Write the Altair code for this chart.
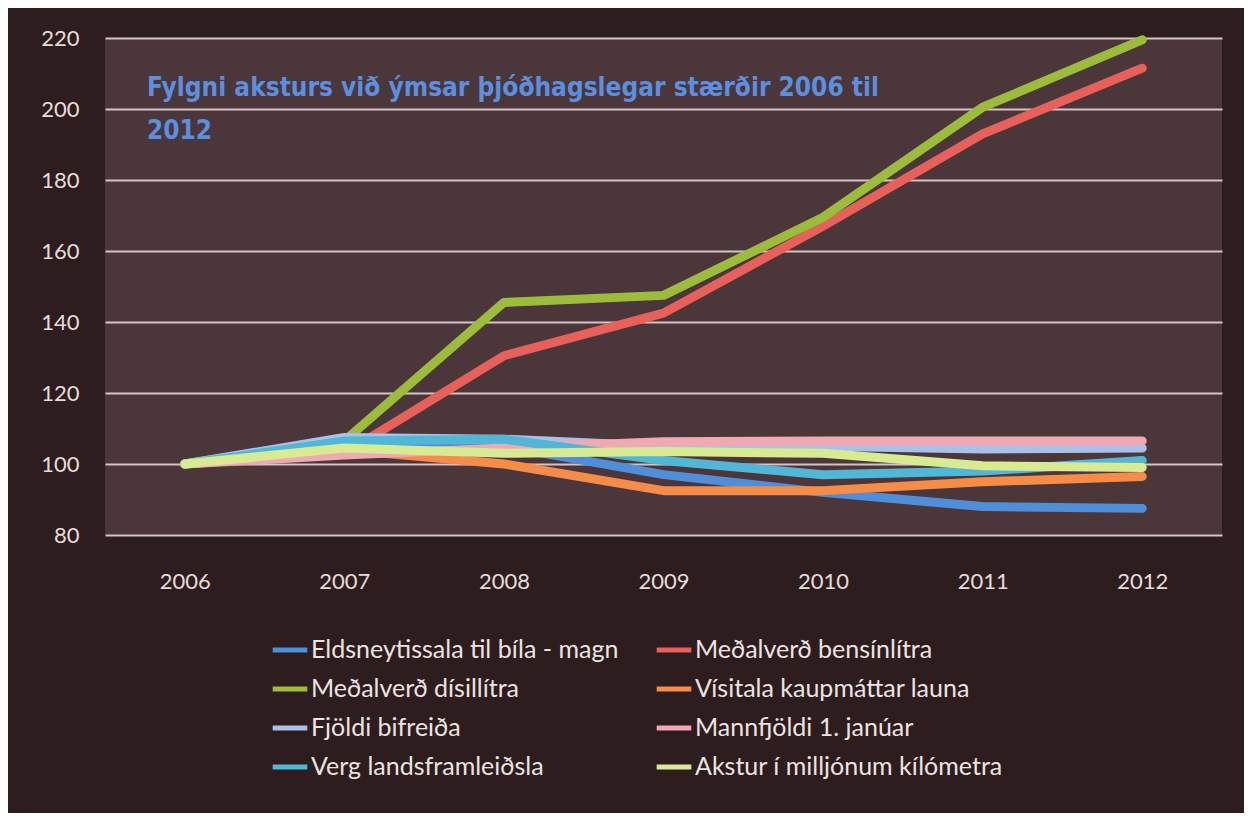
import altair as alt
import pandas as pd

years = ["2006", "2007", "2008", "2009", "2010", "2011", "2012"]
series = [
    "Eldsneytissala til bíla - magn",
    "Meðalverð bensínlítra",
    "Meðalverð dísillítra",
    "Vísitala kaupmáttar launa",
    "Fjöldi bifreiða",
    "Mannfjöldi 1. janúar",
    "Verg landsframleiðsla",
    "Akstur í milljónum kílómetra",
]
eldsneyti = [100, 107, 105, 97, 92, 88, 87.5]
bensin = [100, 103, 130.5, 142.5, 167, 193, 211.5]
disel = [100, 106.5, 145.5, 147.5, 169.5, 200.5, 219.5]
kaupmattur = [100, 104, 100, 92.5, 92.5, 95, 96.5]
bifreidar = [100, 107.5, 107, 105, 105, 104.2, 104.5]
mannfjoldi = [100, 102.5, 104.5, 106.3, 106.5, 106.5, 106.5]
vlf = [100, 106.5, 107, 101, 97, 98, 101]
akstur = [100, 104.5, 103, 103.5, 103, 99.5, 99]
values = [eldsneyti, bensin, disel, kaupmattur, bifreidar, mannfjoldi, vlf, akstur]
colors = ["#4f8ed8", "#e8605a", "#9cbc3c", "#f58c48", "#a9c1e8", "#f0a8b2", "#52b6d6", "#d9eb92"]
y_ticks = [80, 100, 120, 140, 160, 180, 200, 220]
title_lines = ["Fylgni aksturs við ýmsar þjóðhagslegar stærðir 2006 til", "2012"]

rows = []
for i, (s, vals) in enumerate(zip(series, values)):
    for y, v in zip(years, vals):
        rows.append({"Ár": y, "Röð": s, "Gildi": v, "nr": i})
df = pd.DataFrame(rows)

# legend is filled column by column; reorder so it reads row by row (2 columns)
legend_order = [0, 2, 4, 6, 1, 3, 5, 7]
dom = [series[i] for i in legend_order]
rng = [colors[i] for i in legend_order]

lines = alt.Chart(df).mark_line(strokeWidth=9, strokeCap="round", strokeJoin="round").encode(
    x=alt.X("Ár:N", sort=years, scale=alt.Scale(type="point", padding=0.5),
            axis=alt.Axis(title=None, labelAngle=0, ticks=False, domain=False, grid=False,
                          labelFontSize=22, labelFont="Lato", labelColor="#e6ddd8",
                          labelPadding=36, labelBaseline="top")),
    y=alt.Y("Gildi:Q", scale=alt.Scale(domain=[80, 220], nice=False, zero=False),
            axis=alt.Axis(title=None, values=y_ticks, ticks=False, domain=False,
                          labelFontSize=22, labelFont="Lato", labelColor="#e6ddd8",
                          labelPadding=26, gridColor="#d6c4c4", gridWidth=2.2, gridOpacity=1)),
    color=alt.Color("Röð:N", sort=dom,
                    scale=alt.Scale(domain=dom, range=rng),
                    legend=alt.Legend(title=None, orient="none", legendX=165, legendY=592,
                                      columns=2, columnPadding=27, rowPadding=6,
                                      symbolType="stroke", symbolSize=1200, symbolStrokeWidth=5,
                                      labelFontSize=25, labelFont="Lato", labelColor="#ece4e0",
                                      labelOffset=1, labelLimit=450)),
    detail="nr:O",
)

chart = lines.properties(
    width=1117,
    height=497,
    background="#2e1d1f",
    padding={"left": 97, "top": 30, "right": 22, "bottom": 278},
    autosize=alt.AutoSizeParams(type="none"),
    title=alt.TitleParams(title_lines, anchor="start", frame="group", orient="top",
                          baseline="top", dx=42, dy=117, offset=0,
                          font="DejaVu Sans Condensed", fontWeight="bold", fontSize=26,
                          color="#5b8fe0", lineHeight=43),
).configure_view(fill="#4b363a", stroke=None)

chart.save("out.html", embed_options={"renderer": "svg", "actions": False})
